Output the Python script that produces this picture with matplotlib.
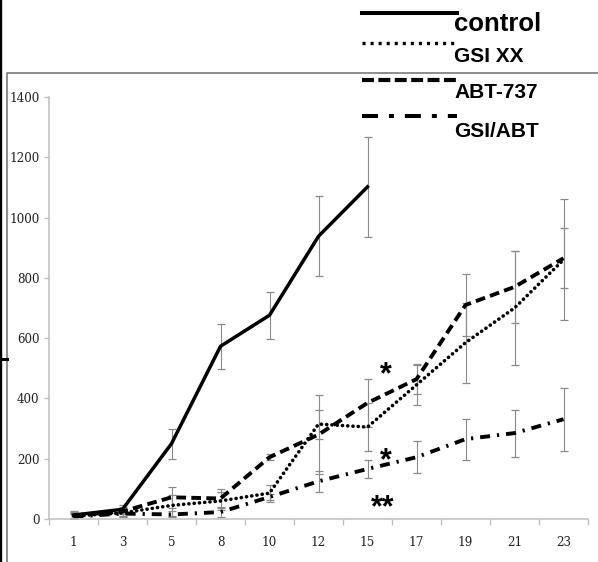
import matplotlib.pyplot as plt
import numpy as np
from matplotlib.lines import Line2D

plt.rcParams["lines.scale_dashes"] = False

# data
days = ['1', '3', '5', '8', '10', '12', '15', '17', '19', '21', '23']
control = [13, 32, 250, 573, 676, 938, 1102]
control_err = [14, 14, 50, 74, 78, 133, 165]
gsi = [10, 20, 45, 60, 86, 315, 305, 445, 585, 700, 860]
gsi_err = [10, 12, 35, 30, 28, 48, 80, 66, 133, 188, 200]
abt = [12, 25, 72, 68, 205, 280, 385, 464, 710, 770, 865]
abt_err = [10, 15, 35, 32, 10, 132, 80, 50, 103, 120, 100]
combo = [8, 18, 15, 23, 73, 125, 166, 205, 265, 285, 331]
combo_err = [8, 10, 10, 16, 10, 35, 30, 53, 68, 78, 105]
names = ['control', 'GSI XX', 'ABT-737', 'GSI/ABT']

W, H = 598, 562
fig = plt.figure(figsize=(W / 100, H / 100), dpi=100)
ax = fig.add_axes([49 / W, 1 - 519 / H, 539 / W, 422 / H])

styles = [
    dict(linestyle='-', lw=2.5),
    dict(linestyle=(0, (0.1, 3.7)), lw=2.6, dash_capstyle='round'),
    dict(linestyle=(0, (7.0, 3.8)), lw=2.8),
    dict(linestyle=(0, (7.2, 5.0, 1.6, 5.0)), lw=2.8),
]
series = [(control, control_err), (gsi, gsi_err), (abt, abt_err), (combo, combo_err)]

for (vals, errs), st in zip(series, styles):
    xs = np.arange(len(vals))
    line, caps, bars = ax.errorbar(xs, vals, yerr=errs, color='black',
                                   ecolor='#8a8a8a', elinewidth=0.8,
                                   capsize=2.6, capthick=0.9, **st)
    for c in caps:
        c.set_color('#333333')

ax.set_xlim(-0.5, len(days) - 0.5)
ax.set_ylim(0, 1400)
ax.set_yticks(np.arange(0, 1401, 200))
ax.set_xticks(np.arange(-0.5, len(days), 1.0))
ax.set_xticklabels([])
ax.set_xticks(np.arange(len(days)), minor=True)
ax.set_xticklabels(days, minor=True)

for s in ['top', 'right']:
    ax.spines[s].set_visible(False)
for s in ['left', 'bottom']:
    ax.spines[s].set_color('#bfbfbf')
    ax.spines[s].set_linewidth(1.1)

ax.tick_params(axis='y', which='major', length=3.5, width=0.9, color='#bfbfbf',
               pad=3.5, labelcolor='#222222')
ax.tick_params(axis='x', which='major', length=4.5, width=0.9, color='#bfbfbf')
ax.tick_params(axis='x', which='minor', length=0, pad=12, labelcolor='#222222')
for lab in ax.get_yticklabels() + ax.get_xticklabels(minor=True):
    lab.set_fontfamily('DejaVu Serif')
    lab.set_fontstretch('condensed')
    lab.set_fontsize(9.5)

# significance marks
ax.text(6.38, 449, '*', ha='center', va='baseline', fontsize=22,
        fontweight='bold', family='Liberation Sans', clip_on=False)
ax.text(6.38, 164, '*', ha='center', va='baseline', fontsize=22,
        fontweight='bold', family='Liberation Sans', clip_on=False)
ax.text(6.30, 8, '**', ha='center', va='baseline', fontsize=22,
        fontweight='bold', family='Liberation Sans', clip_on=False)

# picture frame around the chart
fig.add_artist(Line2D([7 / W, 7 / W, 1], [0, 1 - 73 / H, 1 - 73 / H],
                      color='#6e6e6e', lw=1.1, transform=fig.transFigure))
fig.add_artist(Line2D([1.2 / W, 1.2 / W], [0, 1], color='black', lw=1.7,
                      transform=fig.transFigure))
fig.add_artist(Line2D([0, 7 / W], [1 - 359 / H, 1 - 359 / H], color='black',
                      lw=2.2, transform=fig.transFigure))

# legend drawn by hand
leg_styles = [
    dict(linestyle='-', lw=2.9),
    dict(linestyle=(0, (2.2, 3.6)), lw=2.4),
    dict(linestyle=(0, (8.6, 3.2)), lw=3.0),
    dict(linestyle=(0, (11.5, 7.9, 3.6, 7.9)), lw=2.9),
]
leg_y = [12.7, 43, 80, 116]
txt_y = [31, 62, 98, 137]
txt_size = [18.5, 15, 15, 15]
for name, st, ly, ty, fs in zip(names, leg_styles, leg_y, txt_y, txt_size):
    fig.add_artist(Line2D([362 / W, 457 / W], [1 - ly / H, 1 - ly / H],
                          color='black', transform=fig.transFigure, **st))
    fig.text(454 / W, 1 - ty / H, name, fontsize=fs, fontweight='bold',
             family='Liberation Sans', va='baseline', ha='left')

fig.savefig('out.png', dpi=100)
